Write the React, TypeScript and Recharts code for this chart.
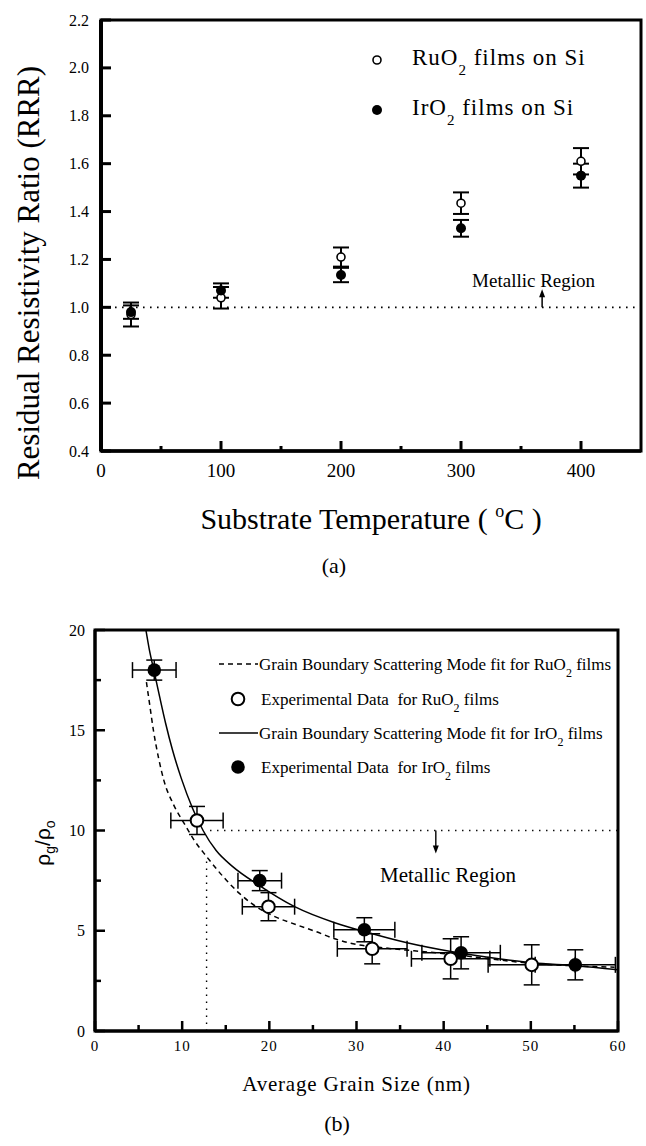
import React from "react";
import { ComposedChart, Scatter, Line, XAxis, YAxis, ErrorBar, ReferenceLine, ReferenceArea, ReferenceDot, Legend } from "recharts";

const SERIF = '"Liberation Serif", "Times New Roman", serif';
const SANS = '"Liberation Sans", Arial, sans-serif';

// (a) residual resistivity ratio vs substrate temperature
const tempsA = [25, 100, 200, 300, 400];
const ruRRR = [0.97, 1.04, 1.21, 1.435, 1.61];
const ruRRRErr = [0.05, 0.045, 0.04, 0.045, 0.055];
const irRRR = [0.98, 1.07, 1.135, 1.33, 1.55];
const irRRRErr = [0.028, 0.03, 0.03, 0.035, 0.05];
const xMajorA = [0, 100, 200, 300, 400];
const xMinorA = [50, 150, 250, 350];
const yTicksA = [0.4, 0.6, 0.8, 1.0, 1.2, 1.4, 1.6, 1.8, 2.0, 2.2];
const legendA = [
  { base: "RuO", sub: "2", rest: " films on Si", filled: false },
  { base: "IrO", sub: "2", rest: " films on Si", filled: true },
];

// (b) rho_g / rho_o vs average grain size
const ruSize = [11.7, 19.9, 31.8, 40.8, 50.1];
const ruSizeErr = [3, 3, 4, 4.5, 5];
const ruRho = [10.5, 6.2, 4.1, 3.6, 3.3];
const ruRhoErr = [0.7, 0.7, 0.75, 1.0, 1.0];
const irSize = [6.8, 18.9, 30.9, 42.0, 55.1];
const irSizeErr = [2.5, 2.5, 3.5, 4.5, 4.6];
const irRho = [18.0, 7.5, 5.05, 3.9, 3.3];
const irRhoErr = [0.5, 0.5, 0.6, 0.8, 0.75];
// fit curves
const ruFitSize = [5.9, 6.3, 6.7, 7.3, 7.9, 9.0, 10.3, 11.4, 12.8, 14.7, 16.6, 18.0, 20.4, 23.1, 25.4, 27.5, 29.3, 33.1, 36.6, 41.0, 46.2, 50.2, 55.1, 59.6];
const ruFitRho = [17.4, 16.2, 15.0, 13.6, 12.5, 11.3, 10.3, 9.5, 8.7, 7.7, 6.85, 6.35, 5.75, 5.3, 4.95, 4.6, 4.38, 4.15, 4.0, 3.82, 3.55, 3.37, 3.25, 3.18];
const irFitSize = [5.84, 6.2, 6.8, 7.4, 8.1, 8.9, 9.9, 11.2, 12.4, 13.9, 15.8, 18.7, 22.9, 27.5, 31.0, 35.8, 41.0, 46.3, 50.2, 55.1, 60];
const irFitRho = [20.0, 19.1, 17.9, 16.7, 15.35, 14.0, 12.6, 11.1, 10.0, 9.0, 8.2, 7.3, 6.2, 5.4, 4.95, 4.4, 3.95, 3.6, 3.4, 3.25, 3.05];
const xMajorB = [0, 10, 20, 30, 40, 50, 60];
const xMinorB = [5, 15, 25, 35, 45, 55];
const yMajorB = [0, 5, 10, 15, 20];
const yMinorB = [2.5, 7.5, 12.5, 17.5];
const legendB = [
  { kind: "dash", base: "Grain Boundary Scattering Mode fit for RuO", rest: " films" },
  { kind: "open", base: "Experimental Data  for RuO", rest: " films" },
  { kind: "solid", base: "Grain Boundary Scattering Mode fit for IrO", rest: " films" },
  { kind: "filled", base: "Experimental Data  for IrO", rest: " films" },
];

const pts = (xs: number[], ys: number[], exs?: number[], eys?: number[]) =>
  xs.map((x, i) => ({ x, y: ys[i], ex: exs ? exs[i] : 0, ey: eys ? eys[i] : 0 }));

const ruA = pts(tempsA, ruRRR, undefined, ruRRRErr);
const irA = pts(tempsA, irRRR, undefined, irRRRErr);
const ruB = pts(ruSize, ruRho, ruSizeErr, ruRhoErr);
const irB = pts(irSize, irRho, irSizeErr, irRhoErr);
const ruFit = pts(ruFitSize, ruFitRho);
const irFit = pts(irFitSize, irFitRho);

const sortNum = (a: number[]) => [...a].sort((p, q) => p - q);

// ticks drawn inward, labels outside
const bottomTick = (majors: number[], fontSize: number, dy: number, majorLen: number, minorLen: number, sw: number, spacing = 0) =>
  (props: any) => {
    const { x, y, payload } = props;
    const major = majors.includes(payload.value);
    return (
      <g>
        <line x1={x} x2={x} y1={y} y2={y - (major ? majorLen : minorLen)} stroke="#000" strokeWidth={sw} />
        {major && (
          <text x={x} y={y + dy} textAnchor="middle" fontFamily={SERIF} fontSize={fontSize} letterSpacing={spacing} fill="#000">
            {payload.value}
          </text>
        )}
      </g>
    );
  };

const leftTick = (majors: number[], fontSize: number, gap: number, majorLen: number, minorLen: number, sw: number, fmt: (v: number) => string) =>
  (props: any) => {
    const { x, y, payload } = props;
    const major = majors.includes(payload.value);
    return (
      <g>
        <line x1={x} x2={x + (major ? majorLen : minorLen)} y1={y} y2={y} stroke="#000" strokeWidth={sw} />
        {major && (
          <text x={x - gap} y={y} textAnchor="end" dominantBaseline="central" fontFamily={SERIF} fontSize={fontSize} fill="#000">
            {fmt(payload.value)}
          </text>
        )}
      </g>
    );
  };

const openA = (p: any) => <circle cx={p.cx} cy={p.cy} r={4} fill="#fff" stroke="#000" strokeWidth={1.6} />;
const filledA = (p: any) => <circle cx={p.cx} cy={p.cy} r={5} fill="#000" />;
const openB = (p: any) => <circle cx={p.cx} cy={p.cy} r={6.3} fill="#fff" stroke="#000" strokeWidth={2} />;
const filledB = (p: any) => <circle cx={p.cx} cy={p.cy} r={6.8} fill="#000" />;

const arrowUp = (p: any) => <path d={`M${p.cx},${p.cy} l-3,8 l6,0 z`} fill="#000" />;
const arrowDown = (p: any) => <path d={`M${p.cx},${p.cy} l-3,-8 l6,0 z`} fill="#000" />;
const regionText = (size: number) => (p: any) => (
  <text x={p.cx} y={p.cy} textAnchor="middle" fontFamily={SERIF} fontSize={size} fill="#000">
    Metallic Region
  </text>
);

const titleA = (props: any) => {
  const vb = props.viewBox || { x: 101, y: 451, width: 540, height: 149 };
  return (
    <g>
      <text x={vb.x + vb.width / 2} y={vb.y + 78} textAnchor="middle" fontFamily={SERIF} fontSize={30} fill="#000">
        {"Substrate Temperature ( "}
        <tspan dy={-12} fontSize={18}>o</tspan>
        <tspan dy={12}>{"C )"}</tspan>
      </text>
      <text x={334} y={vb.y + 122} textAnchor="middle" fontFamily={SERIF} fontSize={22} fill="#000">(a)</text>
    </g>
  );
};

const yTitleA = () => (
  <text x={39} y={273} transform="rotate(-90, 39, 273)" textAnchor="middle" fontFamily={SERIF} fontSize={31} fill="#000">
    Residual Resistivity Ratio (RRR)
  </text>
);

const titleB = (props: any) => {
  const vb = props.viewBox || { x: 95, y: 431, width: 523, height: 115 };
  return (
    <g>
      <text x={vb.x + vb.width / 2} y={vb.y + 60} textAnchor="middle" fontFamily={SERIF} fontSize={21} letterSpacing={0.8} fill="#000">
        Average Grain Size (nm)
      </text>
      <text x={337} y={vb.y + 100} textAnchor="middle" fontFamily={SERIF} fontSize={22} fill="#000">(b)</text>
    </g>
  );
};

const yTitleB = () => (
  <text x={50} y={243} transform="rotate(-90, 50, 243)" textAnchor="middle" fontFamily={SANS} fontSize={21} fill="#000">
    ρ<tspan dy={5} fontSize={14}>g</tspan>
    <tspan dy={-5}>/ρ</tspan>
    <tspan dy={5} fontSize={14}>o</tspan>
  </text>
);

const renderLegendA = () => (
  <svg width={280} height={100} style={{ overflow: "visible" }}>
    {legendA.map((e, i) => (
      <g key={e.base}>
        {e.filled ? (
          <circle cx={17} cy={30 + i * 50} r={5} fill="#000" />
        ) : (
          <circle cx={17} cy={30 + i * 50} r={4} fill="#fff" stroke="#000" strokeWidth={1.6} />
        )}
        <text x={52} y={35 + i * 50} fontFamily={SERIF} fontSize={23} letterSpacing={1} fill="#000">
          {e.base}
          <tspan dy={10} fontSize={15}>{e.sub}</tspan>
          <tspan dy={-10}>{e.rest}</tspan>
        </text>
      </g>
    ))}
  </svg>
);

const rowsB = [14, 49, 83, 117];
const renderLegendB = () => (
  <svg width={420} height={140} style={{ overflow: "visible" }}>
    {legendB.map((e, i) => {
      const cy = rowsB[i];
      const line = e.kind === "dash" || e.kind === "solid";
      return (
        <g key={e.base}>
          {line && <line x1={9} x2={48} y1={cy} y2={cy} stroke="#000" strokeWidth={1.5} strokeDasharray={e.kind === "dash" ? "5 4" : undefined} />}
          {e.kind === "open" && <circle cx={28} cy={cy} r={6.3} fill="#fff" stroke="#000" strokeWidth={2} />}
          {e.kind === "filled" && <circle cx={28} cy={cy} r={6.8} fill="#000" />}
          <text x={line ? 49 : 51} y={cy + 5.5} fontFamily={SERIF} fontSize={17} fill="#000" style={{ whiteSpace: "pre" }}>
            {e.base}
            <tspan dy={7} fontSize={12}>2</tspan>
            <tspan dy={-7}>{e.rest}</tspan>
          </text>
        </g>
      );
    })}
  </svg>
);

const ChartA = () => (
  <ComposedChart width={646} height={600} margin={{ top: 20, right: 5, bottom: 0, left: 0 }}>
    <XAxis
      type="number"
      dataKey="x"
      domain={[0, 450]}
      ticks={sortNum([...xMajorA, ...xMinorA])}
      interval={0}
      allowDataOverflow
      height={149}
      tickSize={0}
      tickMargin={0}
      tickLine={false}
      axisLine={{ stroke: "#000", strokeWidth: 3.5 }}
      tick={bottomTick(xMajorA, 19, 26, 10, 5, 3)}
      label={titleA}
    />
    <YAxis
      type="number"
      domain={[0.4, 2.2]}
      ticks={yTicksA}
      interval={0}
      allowDataOverflow
      width={101}
      tickSize={0}
      tickMargin={0}
      tickLine={false}
      axisLine={{ stroke: "#000", strokeWidth: 4 }}
      tick={leftTick(yTicksA, 16, 12, 10, 10, 3, (v) => v.toFixed(1))}
      label={yTitleA}
    />
    <ReferenceArea x1={0} x2={450} y1={0.4} y2={2.2} fill="none" stroke="#000" strokeWidth={3} />
    <ReferenceLine y={1} stroke="#000" strokeWidth={1.6} strokeDasharray="1.6 5.4" />
    <ReferenceLine segment={[{ x: 367.6, y: 1.0 }, { x: 367.6, y: 1.06 }]} stroke="#000" strokeWidth={1.5} />
    <ReferenceDot x={367.6} y={1.076} shape={arrowUp} />
    <ReferenceDot x={360.5} y={1.084} shape={regionText(19)} />
    <Scatter data={ruA} dataKey="y" shape={openA} isAnimationActive={false}>
      <ErrorBar dataKey="ey" direction="y" width={8} stroke="#000" strokeWidth={2} isAnimationActive={false} />
    </Scatter>
    <Scatter data={irA} dataKey="y" shape={filledA} isAnimationActive={false}>
      <ErrorBar dataKey="ey" direction="y" width={8} stroke="#000" strokeWidth={2} isAnimationActive={false} />
    </Scatter>
    <Legend layout="horizontal" verticalAlign="middle" align="center" content={renderLegendA} wrapperStyle={{ left: 360, top: 30, width: 280, height: 100 }} />
  </ComposedChart>
);

const ChartB = () => (
  <ComposedChart width={646} height={546} margin={{ top: 30, right: 28, bottom: 0, left: 0 }}>
    <XAxis
      type="number"
      dataKey="x"
      domain={[0, 60]}
      ticks={sortNum([...xMajorB, ...xMinorB])}
      interval={0}
      allowDataOverflow
      height={115}
      tickSize={0}
      tickMargin={0}
      tickLine={false}
      axisLine={{ stroke: "#000", strokeWidth: 3 }}
      tick={bottomTick(xMajorB, 15, 20, 10, 6, 2.5, 1)}
      label={titleB}
    />
    <YAxis
      type="number"
      domain={[0, 20]}
      ticks={sortNum([...yMajorB, ...yMinorB])}
      interval={0}
      allowDataOverflow
      width={95}
      tickSize={0}
      tickMargin={0}
      tickLine={false}
      axisLine={{ stroke: "#000", strokeWidth: 3 }}
      tick={leftTick(yMajorB, 16, 10, 10, 6, 2.5, (v) => String(v))}
      label={yTitleB}
    />
    <ReferenceArea x1={0} x2={60} y1={0} y2={20} fill="none" stroke="#000" strokeWidth={3} />
    <ReferenceLine segment={[{ x: 13.2, y: 10 }, { x: 60, y: 10 }]} stroke="#000" strokeWidth={1.4} strokeDasharray="1.4 5.6" />
    <ReferenceLine segment={[{ x: 12.8, y: 0 }, { x: 12.8, y: 8.7 }]} stroke="#000" strokeWidth={1.4} strokeDasharray="1.4 5.6" />
    <ReferenceLine segment={[{ x: 39.1, y: 10 }, { x: 39.1, y: 9.2 }]} stroke="#000" strokeWidth={1.4} />
    <ReferenceDot x={39.1} y={8.85} shape={arrowDown} />
    <ReferenceDot x={40.5} y={7.43} shape={regionText(21)} />
    <Line data={ruFit} dataKey="y" type="monotone" dot={false} activeDot={false} stroke="#000" strokeWidth={1.5} strokeDasharray="5 4" isAnimationActive={false} />
    <Line data={irFit} dataKey="y" type="monotone" dot={false} activeDot={false} stroke="#000" strokeWidth={1.5} isAnimationActive={false} />
    <Scatter data={ruB} dataKey="y" shape={openB} isAnimationActive={false}>
      <ErrorBar dataKey="ey" direction="y" width={8} stroke="#000" strokeWidth={1.5} isAnimationActive={false} />
      <ErrorBar dataKey="ex" direction="x" width={8} stroke="#000" strokeWidth={1.5} isAnimationActive={false} />
    </Scatter>
    <Scatter data={irB} dataKey="y" shape={filledB} isAnimationActive={false}>
      <ErrorBar dataKey="ey" direction="y" width={8} stroke="#000" strokeWidth={1.5} isAnimationActive={false} />
      <ErrorBar dataKey="ex" direction="x" width={8} stroke="#000" strokeWidth={1.5} isAnimationActive={false} />
    </Scatter>
    <Legend layout="horizontal" verticalAlign="middle" align="center" content={renderLegendB} wrapperStyle={{ left: 210, top: 50, width: 420, height: 140 }} />
  </ComposedChart>
);

export default function App() {
  return (
    <div style={{ position: "absolute", left: 0, top: 0, width: 646, height: 1146, background: "#fff", overflow: "hidden" }}>
      <div style={{ position: "absolute", left: 0, top: 0 }}>
        <ChartA />
      </div>
      <div style={{ position: "absolute", left: 0, top: 600 }}>
        <ChartB />
      </div>
    </div>
  );
}
